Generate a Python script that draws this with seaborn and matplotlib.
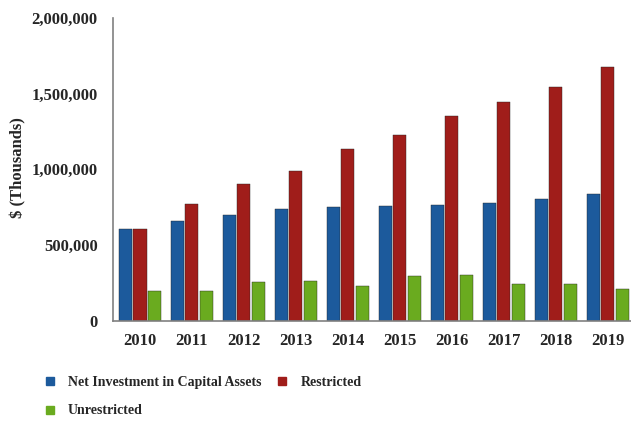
import matplotlib
matplotlib.use("Agg")
import matplotlib.pyplot as plt
from matplotlib.lines import Line2D
from matplotlib.ticker import FuncFormatter
import seaborn as sns
import pandas as pd

years = ["2010", "2011", "2012", "2013", "2014", "2015", "2016", "2017", "2018", "2019"]
net_investment = [609000, 658000, 700000, 740000, 750000, 757000, 762000, 775000, 806000, 839000]
restricted = [605000, 773000, 903000, 990000, 1132000, 1225000, 1353000, 1446000, 1545000, 1677000]
unrestricted = [194000, 194000, 256000, 265000, 227000, 293000, 305000, 245000, 243000, 210000]
series_names = ["Net Investment in Capital Assets", "Restricted", "Unrestricted"]
colors = ["#1c5a9c", "#a01d1a", "#6aab1f"]

df = pd.DataFrame({
    "Year": years * 3,
    "Series": [series_names[0]] * 10 + [series_names[1]] * 10 + [series_names[2]] * 10,
    "Value": net_investment + restricted + unrestricted,
})

sns.set_style("white")
plt.rcParams["font.family"] = ["Liberation Serif", "DejaVu Serif"]
plt.rcParams["font.weight"] = "bold"

fig = plt.figure(figsize=(6.31, 4.21), dpi=100)
ax = fig.add_axes([0.179, 0.238, 0.821, 0.72])

sns.barplot(data=df, x="Year", y="Value", hue="Series", palette=colors,
            width=0.84, gap=0.1, ax=ax, legend=False, saturation=1)
for p in ax.patches:
    p.set_edgecolor("#222222")
    p.set_linewidth(0.3)

ax.set_ylim(0, 2000000)
ax.set_xlim(-0.52, 9.45)
ax.set_yticks([0, 500000, 1000000, 1500000, 2000000])
ax.yaxis.set_major_formatter(FuncFormatter(lambda v, _: f"{int(v):,}"))
ax.set_xlabel("")
ax.set_ylabel("$ (Thousands)", fontsize=12, fontweight="bold")
ax.yaxis.set_label_coords(-0.167, 0.505)

for s in ["top", "right"]:
    ax.spines[s].set_visible(False)
for s in ["left", "bottom"]:
    ax.spines[s].set_color("#808080")
    ax.spines[s].set_linewidth(1.2)

ax.tick_params(axis="y", labelsize=12, length=3, color="#999999", direction="out", pad=8)
ax.tick_params(axis="x", labelsize=12, length=0, pad=9)
for lbl in ax.get_xticklabels() + ax.get_yticklabels():
    lbl.set_fontweight("bold")

# legend laid out row by row: Net / Restricted on the first line, Unrestricted below
handles = [Line2D([], [], marker="s", linestyle="", markersize=5.5, color=c) for c in colors]
order = [0, 2, 1]
fig.legend([handles[i] for i in order], [series_names[i] for i in order],
           ncol=2, loc="upper left", bbox_to_anchor=(0.057, 0.123),
           frameon=False, handlelength=1.0, handletextpad=0.8, borderpad=0,
           columnspacing=1.0, labelspacing=1.1, prop={"weight": "bold", "size": 10})

fig.savefig("out.png", dpi=100, facecolor="white")
